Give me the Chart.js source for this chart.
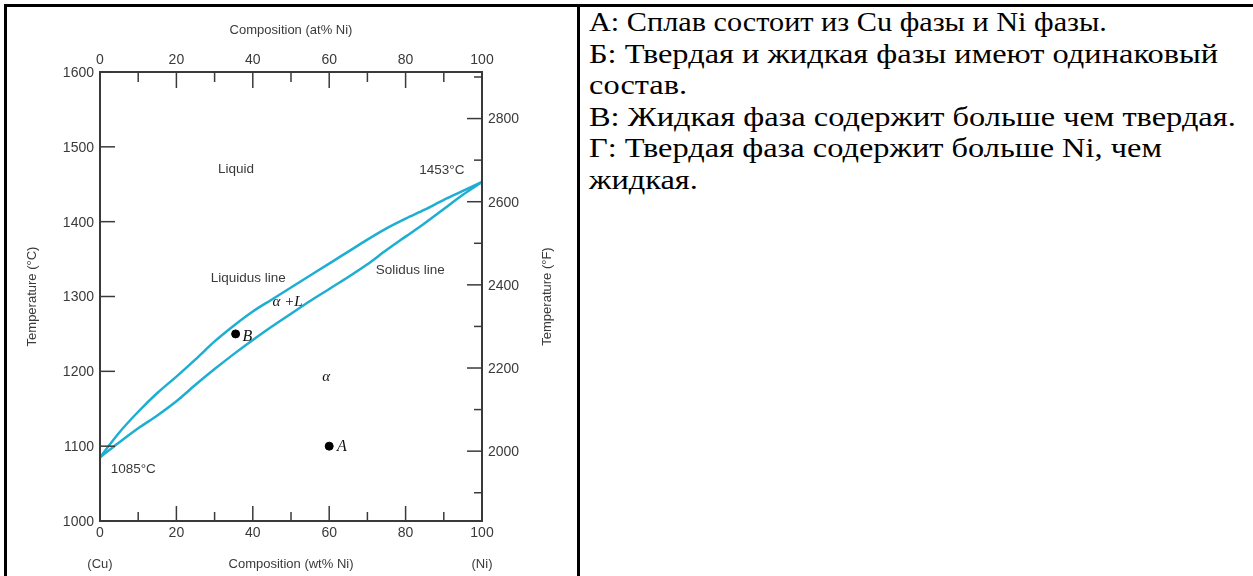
<!DOCTYPE html>
<html lang="ru">
<head>
<meta charset="UTF-8">
<title>Cu-Ni phase diagram</title>
<script src="https://cdn.jsdelivr.net/npm/chart.js"></script>
<style>
    html, body {
        margin: 0;
        background: #fff;
        overflow: hidden;
        width: 1253px;
        height: 576px;
    }
    #frame {
        position: absolute;
        left: 4px;
        top: 4px;
        width: 1270px;
        height: 620px;
        border: 3px solid #000;
        box-sizing: border-box;
    }
    #divider {
        position: absolute;
        left: 577px;
        top: 4px;
        width: 3px;
        height: 600px;
        background: #000;
    }
    #chartBox {
        position: absolute;
        left: 0;
        top: 0;
        width: 574px;
        height: 576px;
    }
    #answers {
        position: absolute;
        left: 589px;
        top: 7px;
        font-family: "Liberation Serif", "Times New Roman", serif;
        font-size: 27px;
        line-height: 31.5px;
        color: #000;
        white-space: nowrap;
    }
    #answers div {
        transform: scaleX(1.2);
        transform-origin: 0 0;
    }
    #answers div.first {
        transform: scaleX(1.12);
    }
</style>
</head>
<body>
<div id="frame"></div>
<div id="divider"></div>
<div id="chartBox"><canvas id="phaseChart" width="574" height="576"></canvas></div>
<div id="answers">
    <div class="first">А: Сплав состоит из Cu фазы и Ni фазы.</div>
    <div>Б: Твердая и жидкая фазы имеют одинаковый</div>
    <div>состав.</div>
    <div>В: Жидкая фаза содержит больше чем твердая.</div>
    <div>Г: Твердая фаза содержит больше Ni, чем</div>
    <div>жидкая.</div>
</div>

<script>
    // composition, wt% Ni
    const compositionWt = [0, 5, 10, 15, 20, 25, 30, 35, 40, 45, 50, 55, 60, 65, 70, 75, 80, 85, 90, 95, 100];
    // temperatures, °C
    const liquidusC = [1085, 1118, 1146, 1171, 1193, 1216, 1240, 1261, 1280, 1296, 1312, 1328, 1344, 1360, 1376, 1391, 1404, 1416, 1429, 1441, 1453];
    const solidusC  = [1085, 1105, 1124, 1141, 1160, 1182, 1203, 1223, 1242, 1260, 1277, 1294, 1310, 1326, 1343, 1362, 1380, 1398, 1417, 1436, 1453];

    const pointNames = ['A', 'B'];
    const pointWt = [60, 35.5];
    const pointC = [1100, 1250];

    const tempTicksC = [1000, 1100, 1200, 1300, 1400, 1500, 1600];
    const tempTicksF = [2000, 2200, 2400, 2600, 2800];
    const tempMinorF = [1900, 2100, 2300, 2500, 2700, 2900];
    const compTicks = [0, 20, 40, 60, 80, 100];
    const compMinor = [10, 30, 50, 70, 90];

    const lineColor = '#1eaed2';
    const axisColor = '#3a3a3a';
    const textColor = '#3a3a3a';
    const sans = '"Liberation Sans", Arial, sans-serif';
    const serif = '"Liberation Serif", "Times New Roman", serif';

    const fToC = f => (f - 32) / 1.8;

    // text placed inside the diagram, in data coordinates (wt% Ni, °C)
    const notes = [
        { text: 'Liquid', x: 35.6, y: 1470, font: '13.5px ' + sans },
        { text: '1453°C', x: 89.5, y: 1469, font: '13.5px ' + sans },
        { text: 'Liquidus line', x: 38.8, y: 1325, font: '13.5px ' + sans },
        { text: 'Solidus line', x: 81.2, y: 1335, font: '13.5px ' + sans },
        { text: 'α +L', x: 49.1, y: 1293, font: 'italic 15px ' + serif },
        { text: 'B', x: 38.6, y: 1246, font: 'italic 16px ' + serif },
        { text: 'α', x: 59.2, y: 1193, font: 'italic 15px ' + serif },
        { text: 'A', x: 63.3, y: 1099, font: 'italic 16px ' + serif },
        { text: '1085°C', x: 8.7, y: 1069, font: '13.5px ' + sans }
    ];

    const toXY = (xs, ys) => xs.map((v, i) => ({ x: v, y: ys[i] }));

    // axes are drawn by hand so the ticks can point inwards like the original
    const diagramAxes = {
        id: 'diagramAxes',
        afterDatasetsDraw(chart) {
            const { ctx, chartArea: a, scales: { x, y } } = chart;
            ctx.save();
            ctx.strokeStyle = axisColor;
            ctx.fillStyle = textColor;
            ctx.lineWidth = 2;
            ctx.strokeRect(a.left, a.top, a.right - a.left, a.bottom - a.top);

            ctx.lineWidth = 1.5;
            const tick = (x1, y1, x2, y2) => {
                ctx.beginPath();
                ctx.moveTo(x1, y1);
                ctx.lineTo(x2, y2);
                ctx.stroke();
            };

            ctx.font = '14px ' + sans;

            // left, °C
            ctx.textAlign = 'right';
            ctx.textBaseline = 'middle';
            tempTicksC.forEach(v => {
                const py = y.getPixelForValue(v);
                tick(a.left, py, a.left + 15, py);
                ctx.fillText(String(v), a.left - 6, py + 1);
            });

            // right, °F
            ctx.textAlign = 'left';
            tempTicksF.forEach(v => {
                const py = y.getPixelForValue(fToC(v));
                tick(a.right - 15, py, a.right, py);
                ctx.fillText(String(v), a.right + 6, py + 1);
            });
            tempMinorF.forEach(v => {
                const py = y.getPixelForValue(fToC(v));
                tick(a.right - 8, py, a.right, py);
            });

            // top (at%) and bottom (wt%)
            ctx.textAlign = 'center';
            compTicks.forEach(v => {
                const px = x.getPixelForValue(v);
                tick(px, a.top, px, a.top + 16);
                tick(px, a.bottom, px, a.bottom - 15);
                ctx.fillText(String(v), px, a.top - 12);
                ctx.fillText(String(v), px, a.bottom + 12);
            });
            compMinor.forEach(v => {
                const px = x.getPixelForValue(v);
                tick(px, a.top, px, a.top + 10);
                tick(px, a.bottom, px, a.bottom - 9);
            });

            // titles
            ctx.font = '13px ' + sans;
            const midX = x.getPixelForValue(50);
            const midY = (a.top + a.bottom) / 2;
            ctx.fillText('Composition (at% Ni)', midX, a.top - 42);
            ctx.fillText('Composition (wt% Ni)', midX, a.bottom + 43);
            ctx.fillText('(Cu)', x.getPixelForValue(0), a.bottom + 43);
            ctx.fillText('(Ni)', x.getPixelForValue(100), a.bottom + 43);

            ctx.save();
            ctx.translate(32, midY);
            ctx.rotate(-Math.PI / 2);
            ctx.fillText('Temperature (°C)', 0, 0);
            ctx.restore();

            ctx.save();
            ctx.translate(a.right + 65, midY);
            ctx.rotate(-Math.PI / 2);
            ctx.fillText('Temperature (°F)', 0, 0);
            ctx.restore();

            // labels inside the diagram
            notes.forEach(n => {
                ctx.font = n.font;
                ctx.fillStyle = n.font.startsWith('italic') ? '#111' : textColor;
                ctx.fillText(n.text, x.getPixelForValue(n.x), y.getPixelForValue(n.y));
            });
            ctx.restore();
        }
    };

    const ctx = document.getElementById('phaseChart').getContext('2d');
    const phaseChart = new Chart(ctx, {
        type: 'scatter',
        data: {
            datasets: [
                {
                    label: 'Liquidus',
                    data: toXY(compositionWt, liquidusC),
                    showLine: true,
                    borderColor: lineColor,
                    borderWidth: 2.5,
                    pointRadius: 0,
                    cubicInterpolationMode: 'monotone'
                },
                {
                    label: 'Solidus',
                    data: toXY(compositionWt, solidusC),
                    showLine: true,
                    borderColor: lineColor,
                    borderWidth: 2.5,
                    pointRadius: 0,
                    cubicInterpolationMode: 'monotone'
                },
                {
                    label: 'Points',
                    data: toXY(pointWt, pointC),
                    pointRadius: 4,
                    pointBackgroundColor: '#000',
                    pointBorderColor: '#000'
                }
            ]
        },
        options: {
            responsive: false,
            animation: false,
            devicePixelRatio: 1,
            layout: {
                padding: { left: 100, right: 92, top: 72, bottom: 55 }
            },
            plugins: {
                legend: { display: false },
                tooltip: { enabled: false }
            },
            scales: {
                x: { type: 'linear', min: 0, max: 100, display: false },
                y: { type: 'linear', min: 1000, max: 1600, display: false }
            }
        },
        plugins: [diagramAxes]
    });
</script>
</body>
</html>
